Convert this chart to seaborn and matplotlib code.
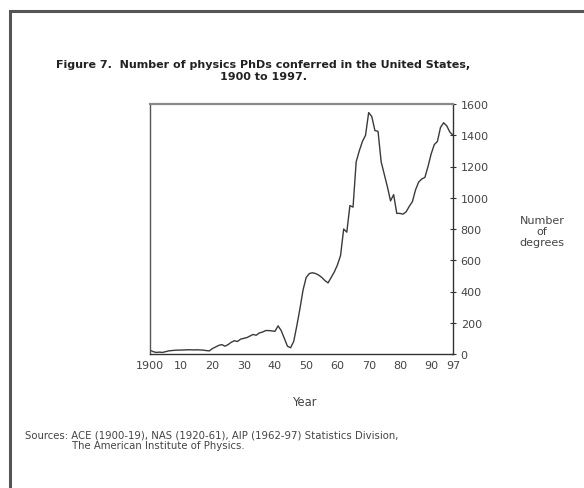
import numpy as np
import pandas as pd
import seaborn as sns
import matplotlib
matplotlib.use("Agg")
import matplotlib.pyplot as plt
from matplotlib.patches import Rectangle

# PhDs per year (1900-1997)
years = list(range(1900, 1998))
phds = [25, 15, 10, 12, 10, 15, 20, 22, 24, 25,
        25, 26, 27, 27, 26, 27, 26, 25, 22, 20,
        35, 45, 55, 60, 50, 60, 75, 85, 80, 95,
        100, 105, 115, 125, 120, 135, 140, 150, 150, 148,
        145, 180, 150, 100, 50, 40, 80, 180, 290, 410,
        490, 515, 520, 515, 505, 490, 470, 455, 490, 525,
        570, 630, 800, 780, 950, 940, 1230, 1300, 1360, 1400,
        1545, 1520, 1430, 1425, 1230, 1150, 1070, 980, 1020, 900,
        900, 895, 910, 945, 975, 1050, 1100, 1120, 1130, 1200,
        1280, 1340, 1360, 1450, 1480, 1460, 1420, 1400]
xticks = [1900, 1910, 1920, 1930, 1940, 1950, 1960, 1970, 1980, 1990, 1997]
xticklabels = ["1900", "10", "20", "30", "40", "50", "60", "70", "80", "90", "97"]
yticks = [0, 200, 400, 600, 800, 1000, 1200, 1400, 1600]

df = pd.DataFrame({"year": years, "phds": phds})

sns.set_style("white")
plt.rcParams["font.family"] = ["DejaVu Sans"]

fig = plt.figure(figsize=(5.84, 4.89), dpi=100)
ax = fig.add_axes([150 / 584, 1 - 355 / 489, 303 / 584, 250 / 489])
sns.lineplot(data=df, x="year", y="phds", color="#3a3a3a", linewidth=1.0, ax=ax)

ax.set_xlim(1900, 1997)
ax.set_ylim(0, 1600)
ax.set_xticks(xticks)
ax.set_xticklabels(xticklabels)
ax.set_yticks(yticks)
ax.yaxis.tick_right()
ax.tick_params(axis="x", direction="inout", length=5, width=0.8, color="#333333",
               labelsize=8, labelcolor="#444444", pad=2)
ax.tick_params(axis="y", direction="inout", length=5, width=0.8, color="#333333",
               labelsize=8, labelcolor="#444444", pad=3, right=True, left=False)
ax.set_xlabel("")
ax.set_ylabel("")
for s in ax.spines.values():
    s.set_color("#555555")
    s.set_linewidth(1.0)
ax.spines["top"].set_color("#888888")
ax.spines["top"].set_linewidth(1.6)
ax.spines["right"].set_color("#333333")
ax.spines["bottom"].set_color("#333333")

fig.text(263 / 584, 1 - 71 / 489,
         "Figure 7.  Number of physics PhDs conferred in the United States,\n1900 to 1997.",
         ha="center", va="center", fontsize=8.0, fontweight="bold", color="#222222",
         linespacing=1.35)
fig.text(305 / 584, 1 - 402 / 489, "Year", ha="center", va="center",
         fontsize=8.3, color="#444444")
fig.text(542 / 584, 1 - 232 / 489, "Number\nof\ndegrees", ha="center", va="center",
         fontsize=8.0, color="#444444", linespacing=1.1)
fig.text(25 / 584, 1 - 436 / 489,
         "Sources: ACE (1900-19), NAS (1920-61), AIP (1962-97) Statistics Division,",
         ha="left", va="center", fontsize=7.3, color="#444444")
fig.text(72 / 584, 1 - 446 / 489, "The American Institute of Physics.",
         ha="left", va="center", fontsize=7.3, color="#444444")

# outer frame, running off the right and bottom edges
fig.patches.append(Rectangle((9.5 / 584, -0.1), 1.2, 1 - 11.5 / 489 + 0.1,
                             transform=fig.transFigure, fill=False,
                             edgecolor="#555555", linewidth=2.2))

fig.savefig("out.png", dpi=100)
